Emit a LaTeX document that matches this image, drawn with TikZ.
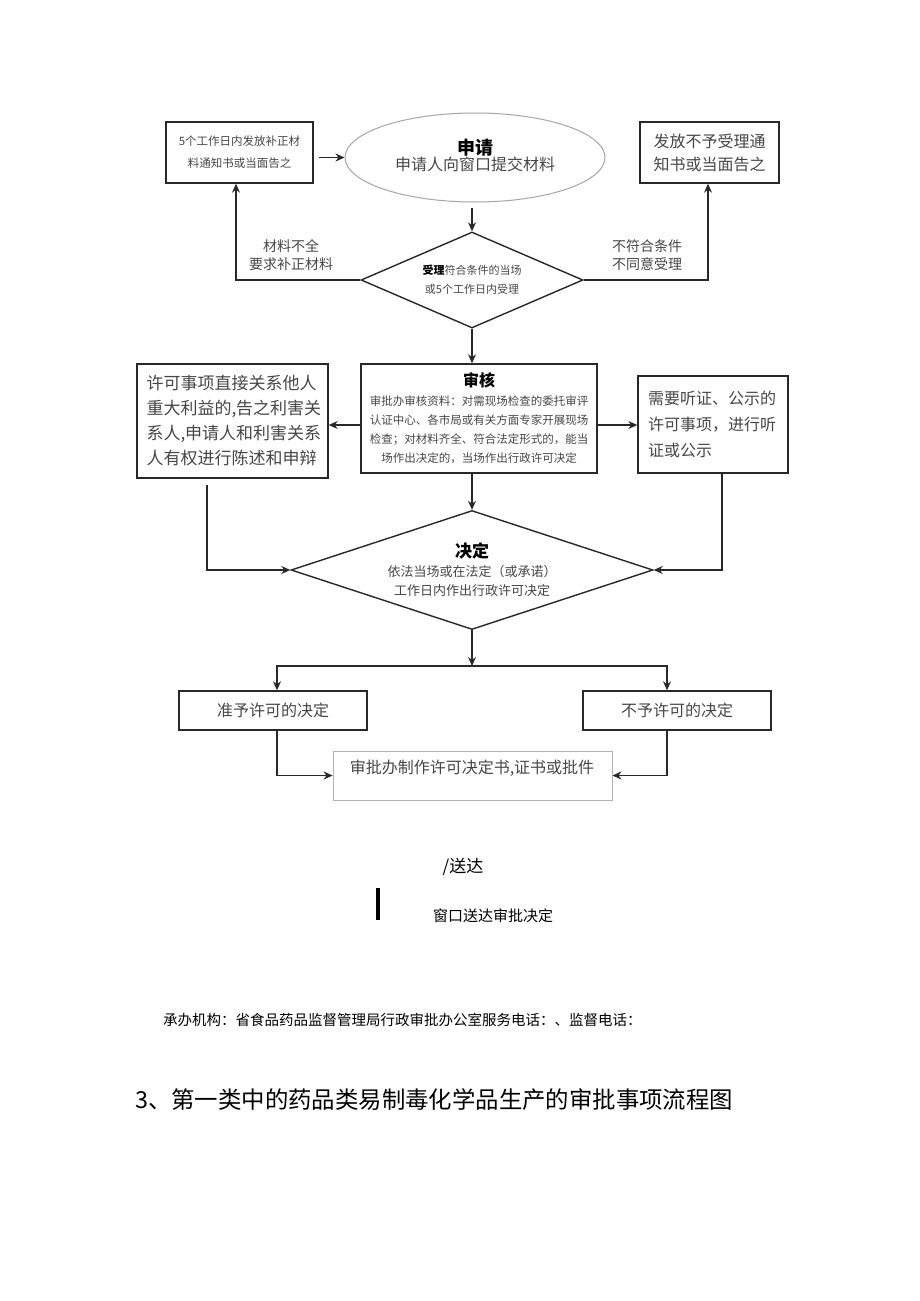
\documentclass[tikz,border=0pt]{standalone}
\usepackage{fontspec}
\setmainfont{Noto Sans CJK SC}
\usetikzlibrary{shapes.geometric,arrows.meta}
\definecolor{linec}{RGB}{40,40,40}
\definecolor{txtc}{RGB}{70,70,70}
\tikzset{
  box/.style={draw=linec,line width=1.4pt,inner sep=0pt,text=txtc},
  lbl/.style={inner sep=0pt,text=txtc},
  arr/.style={draw=linec,line width=1.3pt,-{Stealth[length=9pt,width=8pt]}},
  ln/.style={draw=linec,line width=1.3pt},
}
\begin{document}
\begin{tikzpicture}[x=1pt,y=-1pt]
\fill[white] (0,0) rectangle (920,1301);
\useasboundingbox (0,0) rectangle (920,1301);

% top row
\node[box,minimum width=147pt,minimum height=61pt,align=center,font=\fontsize{11.5}{22}\selectfont] (lbox) at (239.5,152.5) {5个工作日内发放补正材\\料通知书或当面告之};
\node[draw=gray!70,line width=1pt,ellipse,minimum width=260pt,minimum height=89pt,inner sep=0pt,align=center,text=txtc] (ell) at (475,157.5)
  {{\fontsize{18}{21}\selectfont\bfseries\color{black}申请}\\{\fontsize{16}{21}\selectfont 申请人向窗口提交材料}\\[-6pt]};
\node[box,minimum width=139pt,minimum height=61pt,align=center,font=\fontsize{16}{23}\selectfont] (rbox) at (709.5,152.5) {发放不予受理通\\知书或当面告之};

\draw[arr,shorten <=5pt] (lbox.east |- ell.west) -- (ell.west);

% accept diamond
\node[box,diamond,aspect=2.3,minimum width=222pt,minimum height=96pt,align=center,font=\fontsize{11}{19}\selectfont] (d1) at (472,280)
  {{\bfseries\color{black}受理}符合条件的当场\\或5个工作日内受理};
\draw[arr,shorten <=5pt] (ell.south -| d1.north) -- (d1.north);
\draw[arr] (d1.west) -| ([xshift=-3.5pt]lbox.south);
\draw[arr] (d1.east) -| ([xshift=-1.5pt]rbox.south);
\node[lbl,align=center,font=\fontsize{14}{18}\selectfont] (lab1) at (291,255) {材料不全\\要求补正材料};
\node[lbl,align=left,anchor=west,font=\fontsize{14}{18}\selectfont] (lab2) at (612,255) {不符合条件\\不同意受理};

% review box
\node[box,minimum width=236pt,minimum height=109pt,align=center,font=\fontsize{11.5}{19}\selectfont] (rev) at (479,418.5)
  {{\fontsize{16}{20}\selectfont\bfseries\color{black}审核}\\审批办审核资料：对需现场检查的委托审评\\认证中心、各市局或有关方面专家开展现场\\检查；对材料齐全、符合法定形式的，能当\\场作出决定的，当场作出行政许可决定};
\draw[arr] (d1.south) -- (d1.south |- rev.north);

\node[box,minimum width=191pt,minimum height=114pt,text width=172pt,align=left,font=\fontsize{17}{25}\selectfont] (hbox) at (232.5,421)
  {许可事项直接关系他人\\重大利益的,告之利害关\\系人,申请人和利害关系\\人有权进行陈述和申辩};
\node[box,minimum width=150pt,minimum height=97pt,text width=130pt,align=left,font=\fontsize{16}{26}\selectfont] (pbox) at (713,424.5)
  {需要听证、公示的\\许可事项，进行听\\证或公示};
\draw[arr] ([yshift=-6.5pt]rev.west) -- ([yshift=-6.5pt]rev.west -| hbox.east);
\draw[arr] ([yshift=-6.5pt]rev.east) -- ([yshift=-6.5pt]rev.east -| pbox.west);

% decision diamond
\node[box,diamond,aspect=3.04,minimum width=362pt,minimum height=119pt,align=center,font=\fontsize{13}{19}\selectfont] (d2) at (472,570)
  {{\fontsize{17}{20}\selectfont\bfseries\color{black}决定}\\依法当场或在法定（或承诺）\\工作日内作出行政许可决定};
\draw[arr] (d2.north |- rev.south) -- (d2.north);
\draw[arr,shorten <=6pt] ([xshift=-25.5pt]hbox.south) |- (d2.west);
\draw[arr] ([xshift=9pt]pbox.south) |- (d2.east);

% results
\coordinate (split) at (472,666);
\node[box,minimum width=188pt,minimum height=39pt,font=\fontsize{16}{20}\selectfont] (yes) at (273,710.5) {准予许可的决定};
\node[box,minimum width=188pt,minimum height=39pt,font=\fontsize{16}{20}\selectfont] (no) at (677,710.5) {不予许可的决定};
\draw[arr] (d2.south) -- (split);
\draw[arr] (split) -| ([xshift=4pt]yes.north);
\draw[arr] (split) -| ([xshift=-10pt]no.north);

\node[draw=gray!60,line width=0.9pt,minimum width=279pt,minimum height=49pt,inner sep=0pt] (make) at (472.5,775.5) {};
\node[lbl,font=\fontsize{16}{20}\selectfont] (maketext) at (472,768) {审批办制作许可决定书,证书或批件};
\draw[arr] ([xshift=4pt]yes.south) |- (make.west);
\draw[arr] ([xshift=-10pt]no.south) |- (make.east);

% delivery
\node[inner sep=0pt,font=\fontsize{17}{20}\selectfont] (deliv) at (463,867) {/送达};
\fill[black] (375.5,888) rectangle (379.5,920);
\node[inner sep=0pt,font=\fontsize{15}{18}\selectfont] (win) at (493,916) {窗口送达审批决定};

% footer
\node[inner sep=0pt,anchor=west,font=\fontsize{14.5}{18}\selectfont] (org) at (163,1020) {承办机构：省食品药品监督管理局行政审批办公室服务电话：、监督电话：};
\node[inner sep=0pt,anchor=west,font=\fontsize{23.4}{28}\selectfont] (title) at (135,1100) {3、第一类中的药品类易制毒化学品生产的审批事项流程图};
\end{tikzpicture}
\end{document}
